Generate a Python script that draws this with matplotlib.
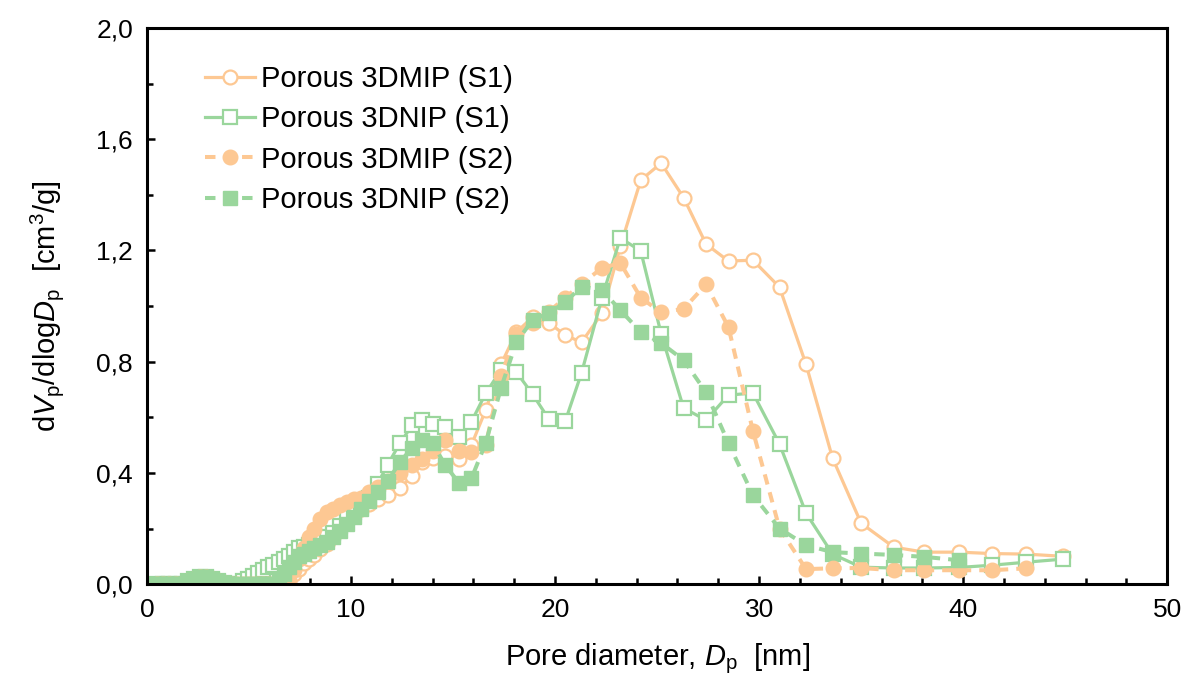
import matplotlib
matplotlib.use("Agg")
import matplotlib.pyplot as plt
from matplotlib.ticker import FuncFormatter, MultipleLocator

plt.rcParams['font.family'] = ['Liberation Sans', 'DejaVu Sans']
plt.rcParams['mathtext.fontset'] = 'custom'
plt.rcParams['mathtext.rm'] = 'Liberation Sans'
plt.rcParams['mathtext.it'] = 'Liberation Sans:italic'

# Pore diameter grid [nm]
dp = [0.5, 0.8, 1.1, 1.4, 1.7, 2.0, 2.3, 2.6, 2.9, 3.2,
      3.5, 3.8, 4.1, 4.4, 4.7, 4.95, 5.2, 5.45, 5.7, 5.95,
      6.2, 6.45, 6.7, 6.95, 7.2, 7.45, 7.7, 7.95, 8.2, 8.5,
      8.8, 9.1, 9.45, 9.8, 10.15, 10.5, 10.9, 11.3, 11.8, 12.4,
      13.0, 13.5, 14.0, 14.6, 15.3, 15.9, 16.6, 17.35, 18.1, 18.9,
      19.7, 20.5, 21.3, 22.3, 23.2, 24.2, 25.2, 26.3, 27.4, 28.5,
      29.7, 31.0, 32.3, 33.6, 35.0, 36.6, 38.1, 39.8, 41.4, 43.1,
      44.9]

mip_s1 = [0.0, 0.0, 0.0, 0.0, 0.0, 0.01, 0.02, 0.025, 0.025, 0.02,
          0.012, 0.005, 0.0, 0.0, 0.0, 0.0, 0.0, 0.0, 0.0, 0.0,
          0.0, 0.0, 0.0, 0.01, 0.035, 0.055, 0.075, 0.09, 0.105, 0.125,
          0.145, 0.17, 0.2, 0.225, 0.25, 0.27, 0.29, 0.305, 0.32, 0.345,
          0.39, 0.44, 0.455, 0.46, 0.45, 0.5, 0.626, 0.79, 0.906, 0.96,
          0.94, 0.895, 0.87, 0.974, 1.215, 1.453, 1.514, 1.39, 1.223, 1.162,
          1.165, 1.068, 0.79, 0.453, 0.219, 0.133, 0.115, 0.115, 0.11, 0.108,
          0.1]

nip_s1 = [0.0, 0.0, 0.0, 0.0, 0.0, 0.01, 0.02, 0.025, 0.025, 0.02,
          0.012, 0.005, 0.0, 0.0, 0.01, 0.02, 0.03, 0.04, 0.05, 0.06,
          0.07, 0.08, 0.09, 0.1, 0.115, 0.13, 0.135, 0.14, 0.15, 0.16,
          0.17, 0.185, 0.21, 0.24, 0.26, 0.28, 0.31, 0.36, 0.43, 0.507,
          0.572, 0.59, 0.575, 0.566, 0.53, 0.584, 0.686, 0.77, 0.763, 0.683,
          0.593, 0.586, 0.76, 1.03, 1.245, 1.198, 0.9, 0.633, 0.59, 0.68,
          0.687, 0.504, 0.255, 0.108, 0.061, 0.058, 0.058, 0.06, 0.068, 0.079,
          0.09]

mip_s2 = [0.0, 0.0, 0.0, 0.0, 0.0, 0.01, 0.02, 0.025, 0.025, 0.02,
          0.012, 0.005, 0.0, 0.0, 0.0, 0.0, 0.0, 0.0, 0.0, 0.0,
          0.0, 0.0, 0.0, 0.015, 0.05, 0.09, 0.13, 0.17, 0.2, 0.235,
          0.26, 0.27, 0.285, 0.295, 0.305, 0.31, 0.33, 0.35, 0.37, 0.4,
          0.43, 0.45, 0.48, 0.518, 0.48, 0.475, 0.5, 0.75, 0.9, 0.94,
          0.98, 1.03, 1.08, 1.137, 1.155, 1.03, 0.977, 0.99, 1.078, 0.924,
          0.55, 0.2, 0.054, 0.057, 0.058, 0.05, 0.05, 0.05, 0.05, 0.057]

nip_s2 = [0.0, 0.0, 0.0, 0.0, 0.0, 0.01, 0.02, 0.025, 0.025, 0.02,
          0.012, 0.005, 0.0, 0.0, 0.0, 0.0, 0.0, 0.0, 0.0, 0.0,
          0.0, 0.015, 0.035, 0.06, 0.08, 0.1, 0.11, 0.12, 0.13, 0.14,
          0.15, 0.17, 0.19, 0.215, 0.24, 0.27, 0.3, 0.33, 0.37, 0.44,
          0.49, 0.518, 0.507, 0.43, 0.363, 0.38, 0.507, 0.705, 0.87, 0.95,
          0.975, 1.014, 1.07, 1.058, 0.985, 0.907, 0.867, 0.806, 0.69, 0.507,
          0.32, 0.2, 0.14, 0.115, 0.11, 0.105, 0.098, 0.086]

labels = ["Porous 3DMIP (S1)", "Porous 3DNIP (S1)",
          "Porous 3DMIP (S2)", "Porous 3DNIP (S2)"]

orange = "#FDC893"
green = "#9AD69C"

fig = plt.figure(figsize=(11.85, 6.84), dpi=100)
ax = fig.add_axes([0.124, 0.146, 0.861, 0.813])

lw = 2.3
ax.plot(dp[:len(mip_s1)], mip_s1, color=orange, lw=lw, marker='o', ms=10,
        mfc='white', mec=orange, mew=1.6, label=labels[0])
ax.plot(dp[:len(nip_s1)], nip_s1, color=green, lw=lw, marker='s', ms=10,
        mfc='white', mec=green, mew=1.6, label=labels[1])
ax.plot(dp[:len(mip_s2)], mip_s2, color=orange, lw=lw + 0.6, ls=(0, (2.6, 2.0)),
        marker='o', ms=10.5, mfc=orange, mec=orange, label=labels[2])
ax.plot(dp[:len(nip_s2)], nip_s2, color=green, lw=lw + 0.6, ls=(0, (2.6, 2.0)),
        marker='s', ms=10, mfc=green, mec=green, label=labels[3])

ax.set_xlim(0, 50)
ax.set_ylim(0, 2.0)
ax.xaxis.set_major_locator(MultipleLocator(10))
ax.xaxis.set_minor_locator(MultipleLocator(2))
ax.yaxis.set_major_locator(MultipleLocator(0.4))
ax.yaxis.set_minor_locator(MultipleLocator(0.2))
ax.yaxis.set_major_formatter(FuncFormatter(lambda v, p: f"{v:.1f}".replace('.', ',')))
ax.xaxis.set_major_formatter(FuncFormatter(lambda v, p: f"{v:.0f}"))

for s in ax.spines.values():
    s.set_linewidth(2.2)
    s.set_color('black')
ax.tick_params(axis='both', which='both', direction='in', top=False, right=False,
               width=1.8, colors='black', labelsize=19)
ax.tick_params(axis='both', which='major', length=6, pad=10)
ax.tick_params(axis='both', which='minor', length=4)

ax.set_xlabel(r"Pore diameter, $\mathit{D}_\mathrm{p}$  [nm]", fontsize=21, labelpad=14)
ax.set_ylabel(r"d$\mathit{V}_\mathrm{p}$/dlog$\mathit{D}_\mathrm{p}$  [cm$^3$/g]",
              fontsize=21, labelpad=22)

ax.legend(loc='upper left', bbox_to_anchor=(0.04, 0.965), frameon=False,
          fontsize=21, handlelength=1.7, handletextpad=0.2, labelspacing=0.42,
          borderaxespad=0.2)

fig.savefig("out.png", dpi=100)
